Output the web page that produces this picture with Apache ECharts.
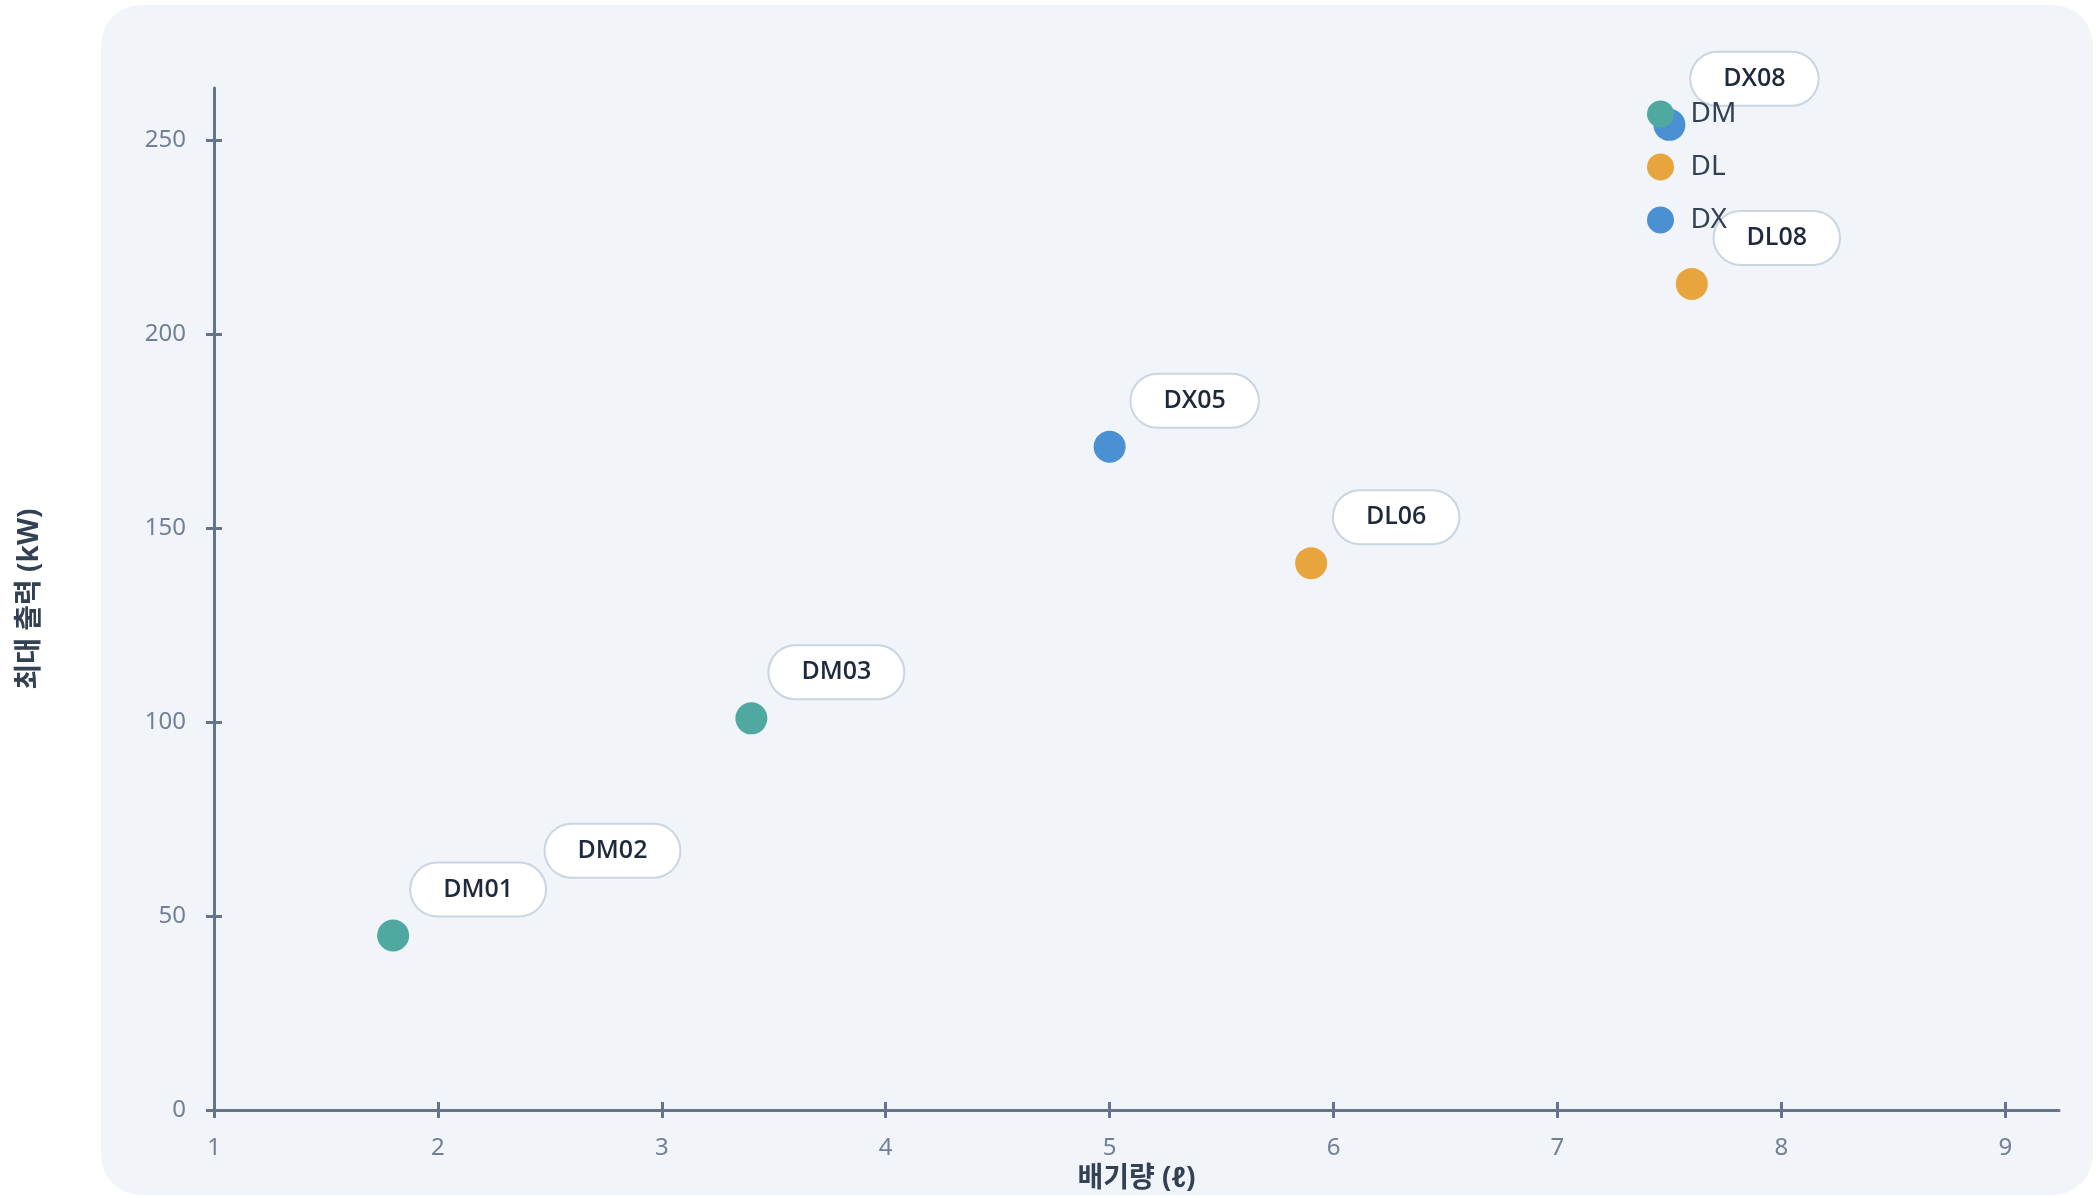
<!DOCTYPE html>
<html><head><meta charset="utf-8">
<script src="https://cdn.jsdelivr.net/npm/echarts@6/dist/echarts.min.js"></script>
<style>
html,body{margin:0;padding:0;background:#ffffff;width:2096px;height:1198px;overflow:hidden}
#panel{position:absolute;left:101px;top:5px;width:1992px;height:1190px;background:#f1f5f9;border-radius:40px}
#chart{position:absolute;left:0;top:0;width:2096px;height:1198px}
</style></head><body>
<div id="panel"></div><div id="chart"></div>
<script>
const seriesNames = ['DM', 'DL', 'DX'];
const seriesColors = ['#4fa9a0', '#e8a53e', '#4a90d2'];
const dmNames = ['DM01', 'DM02', 'DM03'];
const dmX = [1.8, 2.4, 3.4];
const dmY = [45, 55, 101];
const dlNames = ['DL06', 'DL08'];
const dlX = [5.9, 7.6];
const dlY = [141, 213];
const dxNames = ['DX05', 'DX08'];
const dxX = [5.0, 7.5];
const dxY = [171, 254];
const xTicks = [1, 2, 3, 4, 5, 6, 7, 8, 9];
const yTicks = [0, 50, 100, 150, 200, 250];
const xName = '배기량 (ℓ)';
const yName = '최대 출력 (kW)';

const FONT = "'Noto Sans', 'Noto Sans CJK KR', sans-serif";
const LABEL_FONT = "'Open Sans', 'Noto Sans', sans-serif";
const AXIS = '#64748b';

function build(names, xs, ys) {
  return names.map((n, i) => ({ name: n, value: [xs[i], ys[i]] }));
}
const groups = [build(dmNames, dmX, dmY), build(dlNames, dlX, dlY), build(dxNames, dxX, dxY)];

const chart = echarts.init(document.getElementById('chart'));
const baseX = { type: 'value', min: 1, max: 9.24, gridIndex: 0, position: 'bottom' };
const baseY = { type: 'value', min: 0, max: 263.5, gridIndex: 0, position: 'left' };
chart.setOption({
  animation: false,
  textStyle: { fontFamily: FONT },
  grid: { left: 214, right: 37, top: 88, bottom: 84 },
  legend: {
    orient: 'vertical', left: 1642, top: 95,
    data: seriesNames, icon: 'circle',
    itemWidth: 50, itemHeight: 27, itemGap: 25,
    textStyle: { fontSize: 28, color: '#334155', fontFamily: FONT, lineHeight: 27 }
  },
  xAxis: [
    Object.assign({}, baseX, {
      name: xName, nameLocation: 'middle', nameGap: 52,
      nameTextStyle: { fontSize: 28, fontWeight: 'bold', color: '#334155', fontFamily: FONT },
      axisLine: { show: true, onZero: false, lineStyle: { color: AXIS, width: 3 } },
      axisTick: { show: true, length: 8, customValues: xTicks, lineStyle: { color: AXIS, width: 3 } },
      axisLabel: { customValues: xTicks, fontSize: 24, color: '#718096', margin: 26, fontFamily: FONT },
      splitLine: { show: false }
    }),
    Object.assign({}, baseX, {
      axisLine: { show: false, onZero: false },
      axisTick: { show: true, inside: true, length: 8, customValues: xTicks, lineStyle: { color: AXIS, width: 3 } },
      axisLabel: { show: false },
      splitLine: { show: false }
    })
  ],
  yAxis: [
    Object.assign({}, baseY, {
      name: yName, nameLocation: 'middle', nameGap: 170, nameRotate: 90,
      nameTextStyle: { fontSize: 28, fontWeight: 'bold', color: '#334155', fontFamily: FONT },
      axisLine: { show: true, onZero: false, lineStyle: { color: AXIS, width: 3 } },
      axisTick: { show: true, length: 8, customValues: yTicks, lineStyle: { color: AXIS, width: 3 } },
      axisLabel: { customValues: yTicks, fontSize: 24, color: '#718096', margin: 28, fontFamily: FONT },
      splitLine: { show: false }
    }),
    Object.assign({}, baseY, {
      axisLine: { show: false, onZero: false },
      axisTick: { show: true, inside: true, length: 8, customValues: yTicks, lineStyle: { color: AXIS, width: 3 } },
      axisLabel: { show: false },
      splitLine: { show: false }
    })
  ],
  series: seriesNames.map((s, i) => ({
    name: s, type: 'scatter', xAxisIndex: 0, yAxisIndex: 0,
    symbol: 'circle', symbolSize: 32,
    itemStyle: { color: seriesColors[i], opacity: 1 },
    data: groups[i],
    label: {
      show: true, position: 'inside', offset: [85, -46],
      formatter: '{b}',
      fontSize: 25, fontWeight: 600, color: '#1e293b', fontFamily: LABEL_FONT,
      backgroundColor: '#ffffff', borderColor: '#cbd5e1', borderWidth: 2,
      borderRadius: 27, padding: [14, 32], lineHeight: 24
    }
  }))
});
</script>
</body></html>
